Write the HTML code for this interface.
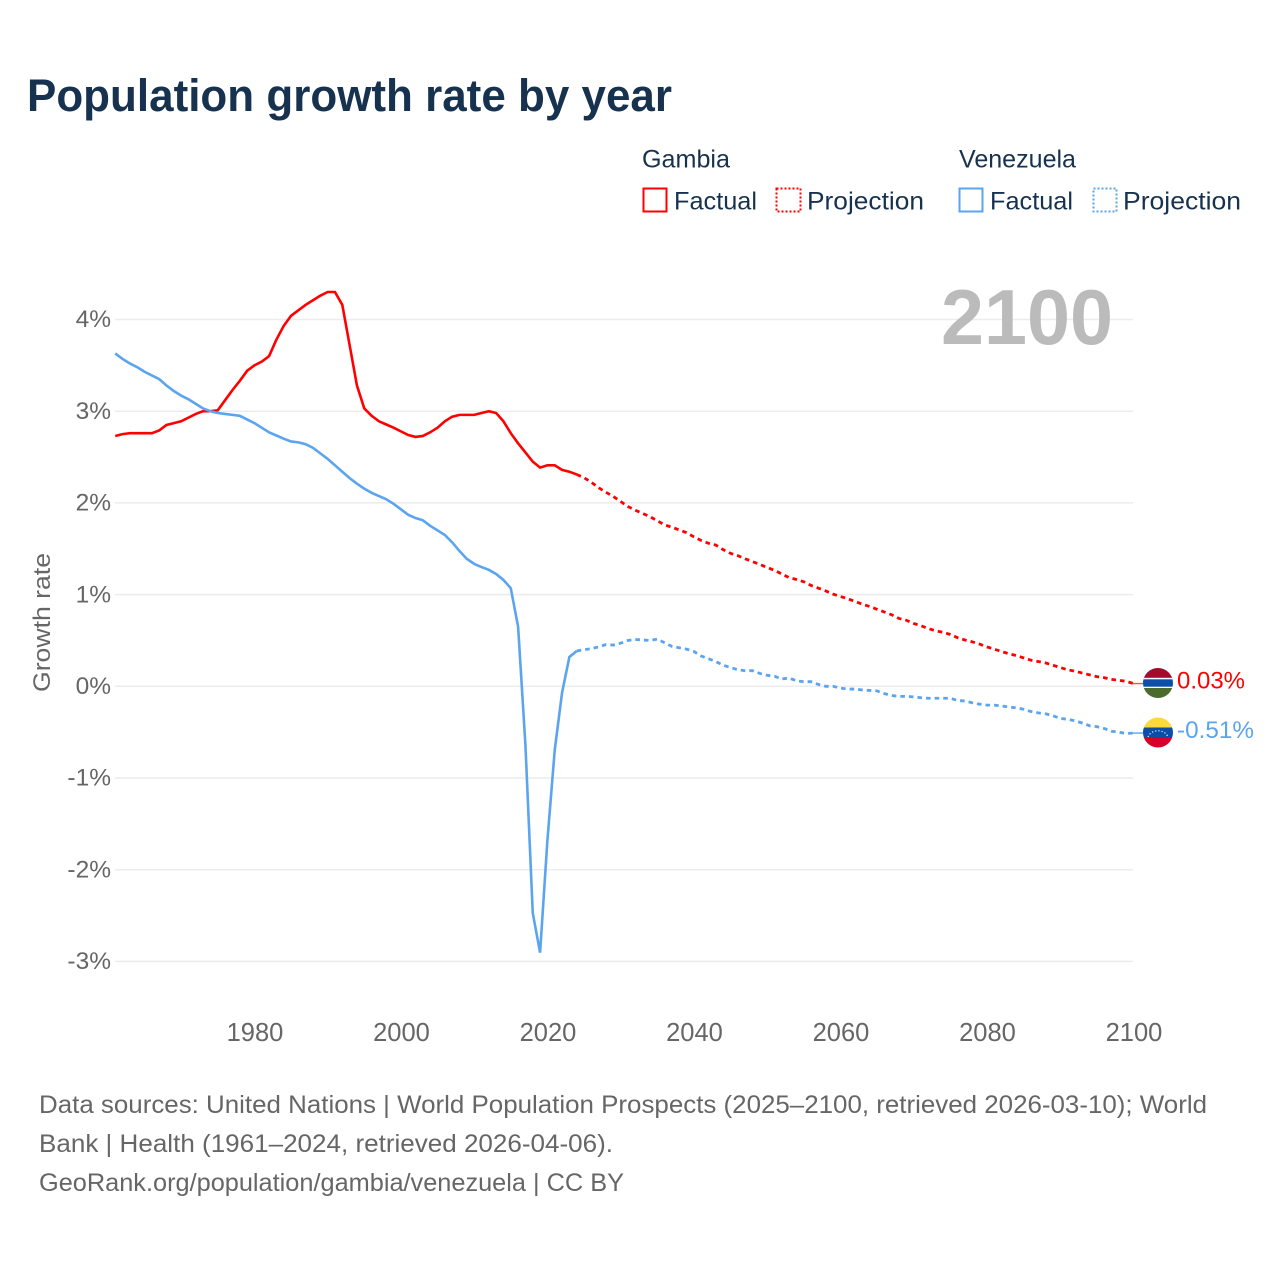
<!DOCTYPE html>
<html lang="en">
<head>
<meta charset="utf-8">
<title>Population growth rate by year</title>
<style>
html,body{margin:0;padding:0;background:#fff;}
svg{display:block;font-family:"Liberation Sans",sans-serif;}
</style>
</head>
<body>
<svg id="chart" xmlns="http://www.w3.org/2000/svg" width="1280" height="1280" viewBox="0 0 1280 1280">
  <rect x="0" y="0" width="1280" height="1280" fill="#fff"/>
  <text x="27" y="111" font-size="45" font-weight="700" fill="#17324f" textLength="645" lengthAdjust="spacingAndGlyphs">Population growth rate by year</text>

  <g font-size="25" fill="#17324f">
    <text x="642" y="167.5" textLength="88" lengthAdjust="spacingAndGlyphs">Gambia</text>
    <text x="959" y="167.5" textLength="117" lengthAdjust="spacingAndGlyphs">Venezuela</text>
    <rect x="643.5" y="188.5" width="23" height="23" fill="none" stroke="#ff0000" stroke-width="2"/>
    <text x="674" y="209.5" textLength="83" lengthAdjust="spacingAndGlyphs">Factual</text>
    <rect x="776.5" y="188.5" width="24" height="23" fill="none" stroke="#ff0000" stroke-width="2" stroke-dasharray="2 2"/>
    <text x="807" y="209.5" textLength="117" lengthAdjust="spacingAndGlyphs">Projection</text>
    <rect x="959.5" y="188.5" width="23" height="23" fill="none" stroke="#5ba4ef" stroke-width="2"/>
    <text x="990" y="209.5" textLength="83" lengthAdjust="spacingAndGlyphs">Factual</text>
    <rect x="1093.5" y="188.5" width="23" height="23" fill="none" stroke="#5ba4ef" stroke-width="2" stroke-dasharray="2 2"/>
    <text x="1123" y="209.5" textLength="118" lengthAdjust="spacingAndGlyphs">Projection</text>
  </g>

  <g id="grid"></g>
  <text x="941" y="344" font-size="78" font-weight="700" fill="#bbbbbb" textLength="172" lengthAdjust="spacingAndGlyphs">2100</text>
  <g id="yticks"></g>
  <g id="xticks"></g>
  <text transform="translate(50,692) rotate(-90)" font-size="24.5" fill="#666666" textLength="139" lengthAdjust="spacingAndGlyphs">Growth rate</text>
  <g id="series"></g>

  <defs>
    <clipPath id="gambia-clip"><circle cx="1158" cy="683" r="15"/></clipPath>
    <clipPath id="venezuela-clip"><circle cx="1158" cy="732.5" r="15"/></clipPath>
  </defs>

  <g clip-path="url(#gambia-clip)">
    <rect x="1143" y="668" width="30" height="10.5" fill="#a00c2d"/>
    <rect x="1143" y="677.8" width="30" height="10.4" fill="#ffffff"/>
    <rect x="1143" y="679.3" width="30" height="7.4" fill="#0c4fa8"/>
    <rect x="1143" y="688" width="30" height="10" fill="#4a6b2c"/>
  </g>
  <g clip-path="url(#venezuela-clip)">
    <rect x="1143" y="717.5" width="30" height="10" fill="#ffd83d"/>
    <rect x="1143" y="727.5" width="30" height="10.5" fill="#0a4ea8"/>
    <rect x="1143" y="738" width="30" height="10" fill="#d8002a"/>
    <path d="M1148 737 A10.5 9 0 0 1 1168 737" fill="none" stroke="#ffffff" stroke-width="1.1" stroke-dasharray="1.2 2"/>
  </g>
  <text x="1177" y="688.5" font-size="24.5" fill="#ff0000" textLength="68" lengthAdjust="spacingAndGlyphs">0.03%</text>
  <text x="1177" y="738" font-size="24.5" fill="#5ba4ef" textLength="77" lengthAdjust="spacingAndGlyphs">-0.51%</text>

  <g font-size="25" fill="#666666">
    <text x="39" y="1113" textLength="1168" lengthAdjust="spacingAndGlyphs">Data sources: United Nations | World Population Prospects (2025–2100, retrieved 2026-03-10); World</text>
    <text x="39" y="1152" textLength="574" lengthAdjust="spacingAndGlyphs">Bank | Health (1961–2024, retrieved 2026-04-06).</text>
    <text x="39" y="1191" textLength="585" lengthAdjust="spacingAndGlyphs">GeoRank.org/population/gambia/venezuela | CC BY</text>
  </g>
</svg>
<script>
const factualStartYear = 1961;
const projectionStartYear = 2024;
const xTickYears = [1980, 2000, 2020, 2040, 2060, 2080, 2100];
const yTickValues = [4, 3, 2, 1, 0, -1, -2, -3];
const gambiaFactual = [2.73,2.75,2.76,2.76,2.76,2.76,2.79,2.85,2.87,2.89,2.93,2.97,3.0,3.0,3.01,3.12,3.23,3.33,3.44,3.5,3.54,3.6,3.78,3.93,4.04,4.1,4.16,4.21,4.26,4.3,4.3,4.16,3.72,3.28,3.03,2.95,2.89,2.855,2.82,2.78,2.74,2.72,2.73,2.77,2.82,2.89,2.94,2.96,2.96,2.96,2.98,3.0,2.98,2.89,2.76,2.65,2.55,2.45,2.385,2.41,2.41,2.36,2.34,2.31];
const gambiaProjection = [2.31,2.275,2.225,2.165,2.115,2.07,2.015,1.96,1.92,1.885,1.85,1.805,1.76,1.735,1.705,1.675,1.63,1.59,1.56,1.54,1.49,1.45,1.425,1.39,1.36,1.33,1.295,1.265,1.225,1.185,1.165,1.14,1.1,1.07,1.04,1.005,0.98,0.955,0.925,0.895,0.87,0.84,0.81,0.78,0.74,0.72,0.685,0.66,0.63,0.605,0.59,0.565,0.53,0.505,0.485,0.46,0.43,0.405,0.38,0.355,0.335,0.31,0.285,0.27,0.255,0.23,0.205,0.18,0.165,0.145,0.125,0.105,0.095,0.075,0.065,0.055,0.03];
const venezuelaFactual = [3.63,3.57,3.52,3.48,3.43,3.39,3.35,3.28,3.22,3.17,3.13,3.08,3.03,3.0,2.98,2.97,2.96,2.95,2.91,2.87,2.82,2.77,2.735,2.7,2.67,2.66,2.64,2.6,2.54,2.48,2.41,2.34,2.27,2.21,2.155,2.11,2.075,2.04,1.99,1.93,1.87,1.835,1.81,1.75,1.7,1.65,1.57,1.475,1.39,1.335,1.3,1.27,1.225,1.16,1.07,0.65,-0.64,-2.47,-2.905,-1.68,-0.695,-0.07,0.32,0.385];
const venezuelaProjection = [0.385,0.4,0.41,0.43,0.455,0.45,0.47,0.5,0.51,0.505,0.5,0.515,0.475,0.435,0.42,0.405,0.38,0.33,0.3,0.27,0.23,0.205,0.18,0.17,0.17,0.14,0.12,0.11,0.08,0.09,0.06,0.05,0.05,0.02,0.0,0.0,-0.02,-0.03,-0.03,-0.04,-0.045,-0.05,-0.08,-0.1,-0.11,-0.11,-0.115,-0.125,-0.13,-0.13,-0.13,-0.13,-0.155,-0.16,-0.18,-0.195,-0.205,-0.205,-0.215,-0.225,-0.235,-0.25,-0.275,-0.29,-0.3,-0.32,-0.35,-0.36,-0.375,-0.4,-0.43,-0.44,-0.46,-0.49,-0.5,-0.515,-0.51];

const NS = 'http://www.w3.org/2000/svg';
const plotLeft = 115;
const plotRight = 1133;
function xScale(year) { return 254.4 + (year - 1980) * 7.325; }
function yScale(value) { return 686.3 - value * 91.7; }
function linePoints(values, startYear) {
  return values.map(function (v, i) {
    return xScale(startYear + i).toFixed(2) + ',' + yScale(v).toFixed(2);
  }).join(' ');
}

const gridGroup = document.getElementById('grid');
const yTickGroup = document.getElementById('yticks');
yTickValues.forEach(function (v) {
  const gridLine = document.createElementNS(NS, 'line');
  
  
  gridLine.setAttribute('x1', plotLeft);
  gridLine.setAttribute('x2', plotRight);
  gridLine.setAttribute('y1', yScale(v));
  gridLine.setAttribute('y2', yScale(v));
  gridLine.setAttribute('stroke', '#ececec');
  gridLine.setAttribute('stroke-width', '1.5');
  gridGroup.appendChild(gridLine);

  const label = document.createElementNS(NS, 'text');
  
  
  label.setAttribute('x', 111);
  label.setAttribute('y', yScale(v) + 7.7);
  label.setAttribute('text-anchor', 'end');
  label.setAttribute('font-size', '24.5');
  label.setAttribute('fill', '#666666');
  label.textContent = v + '%';
  yTickGroup.appendChild(label);
});

const xTickGroup = document.getElementById('xticks');
xTickYears.forEach(function (year) {
  const label = document.createElementNS(NS, 'text');
  
  
  label.setAttribute('x', xScale(year) + 0.6);
  label.setAttribute('y', 1041);
  label.setAttribute('text-anchor', 'middle');
  label.setAttribute('font-size', '25.5');
  label.setAttribute('fill', '#666666');
  label.textContent = year;
  xTickGroup.appendChild(label);
});

const seriesGroup = document.getElementById('series');

const gambiaFactualLine = document.createElementNS(NS, 'polyline');


gambiaFactualLine.setAttribute('points', linePoints(gambiaFactual, factualStartYear));
gambiaFactualLine.setAttribute('fill', 'none');
gambiaFactualLine.setAttribute('stroke', '#ff0000');
gambiaFactualLine.setAttribute('stroke-width', '2.6');
seriesGroup.appendChild(gambiaFactualLine);

const gambiaProjectionLine = document.createElementNS(NS, 'polyline');


gambiaProjectionLine.setAttribute('points', linePoints(gambiaProjection, projectionStartYear));
gambiaProjectionLine.setAttribute('fill', 'none');
gambiaProjectionLine.setAttribute('stroke', '#ff0000');
gambiaProjectionLine.setAttribute('stroke-width', '2.8');
gambiaProjectionLine.setAttribute('stroke-dasharray', '4.6 4');
seriesGroup.appendChild(gambiaProjectionLine);

const venezuelaFactualLine = document.createElementNS(NS, 'polyline');


venezuelaFactualLine.setAttribute('points', linePoints(venezuelaFactual, factualStartYear));
venezuelaFactualLine.setAttribute('fill', 'none');
venezuelaFactualLine.setAttribute('stroke', '#5ba4ef');
venezuelaFactualLine.setAttribute('stroke-width', '2.6');
seriesGroup.appendChild(venezuelaFactualLine);

const venezuelaProjectionLine = document.createElementNS(NS, 'polyline');


venezuelaProjectionLine.setAttribute('points', linePoints(venezuelaProjection, projectionStartYear));
venezuelaProjectionLine.setAttribute('fill', 'none');
venezuelaProjectionLine.setAttribute('stroke', '#5ba4ef');
venezuelaProjectionLine.setAttribute('stroke-width', '2.8');
venezuelaProjectionLine.setAttribute('stroke-dasharray', '4.6 4');
seriesGroup.appendChild(venezuelaProjectionLine);

const gambiaConnector = document.createElementNS(NS, 'line');


gambiaConnector.setAttribute('x1', xScale(2100) - 1);
gambiaConnector.setAttribute('x2', 1144);
gambiaConnector.setAttribute('y1', yScale(gambiaProjection[gambiaProjection.length - 1]));
gambiaConnector.setAttribute('y2', yScale(gambiaProjection[gambiaProjection.length - 1]));
gambiaConnector.setAttribute('stroke', '#ff5050');
gambiaConnector.setAttribute('stroke-width', '1.4');
seriesGroup.appendChild(gambiaConnector);

const venezuelaConnector = document.createElementNS(NS, 'line');


venezuelaConnector.setAttribute('x1', xScale(2100) - 1);
venezuelaConnector.setAttribute('x2', 1144);
venezuelaConnector.setAttribute('y1', yScale(venezuelaProjection[venezuelaProjection.length - 1]));
venezuelaConnector.setAttribute('y2', yScale(venezuelaProjection[venezuelaProjection.length - 1]));
venezuelaConnector.setAttribute('stroke', '#5ba4ef');
venezuelaConnector.setAttribute('stroke-width', '1.4');
seriesGroup.appendChild(venezuelaConnector);
</script>
</body>
</html>
